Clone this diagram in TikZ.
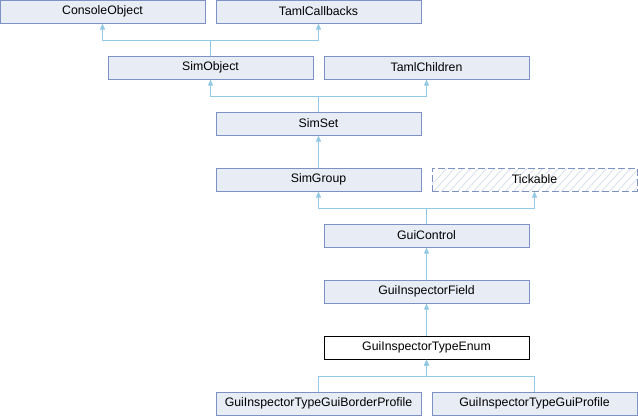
\documentclass[tikz,border=0pt]{standalone}
\usepackage{fontspec}
\setmainfont{Liberation Sans}
\usetikzlibrary{arrows.meta}
\definecolor{boxfill}{RGB}{232,236,245}
\definecolor{boxline}{RGB}{124,146,196}
\definecolor{edgecol}{RGB}{148,200,230}
\definecolor{hatchcol}{RGB}{215,222,236}
\begin{document}
\begin{tikzpicture}[x=1pt,y=-1pt,
  cls/.style={draw=boxline,fill=boxfill,line width=1pt,minimum width=205pt,minimum height=23pt,inner sep=0pt,font=\fontsize{12.3}{14}\selectfont},
  cur/.style={cls,draw=black,fill=white},
  ext/.style={cls,fill=none,dash pattern=on 7pt off 3pt},
  edge/.style={draw=edgecol,line width=1pt,-{Triangle[length=6pt,width=5pt]}}]
\useasboundingbox (0,0) rectangle (638,416);
\node[cls] (consoleobject) at (102.5,11.5) {ConsoleObject};
\node[cls] (tamlcallbacks) at (318.5,11.5) {TamlCallbacks};
\node[cls] (simobject) at (210.5,67.5) {SimObject};
\node[cls] (tamlchildren) at (426.5,67.5) {TamlChildren};
\node[cls] (simset) at (318.5,123.5) {SimSet};
\node[cls] (simgroup) at (318.5,179.5) {SimGroup};
\begin{scope}
\clip (432,168) rectangle (637,191);
\foreach \i in {0,...,30} {
  \draw[hatchcol,line width=0.8pt] (424+8*\i,193) -- (449+8*\i,166);
}
\end{scope}
\node[ext] (tickable) at (534.5,179.5) {Tickable};
\node[cls] (guicontrol) at (426.5,235.5) {GuiControl};
\node[cls] (guiinspectorfield) at (426.5,291.5) {GuiInspectorField};
\node[cur] (enum) at (426.5,347.5) {GuiInspectorTypeEnum};
\node[cls] (borderprofile) at (318.5,403.5) {GuiInspectorTypeGuiBorderProfile};
\node[cls] (guiprofile) at (534.5,403.5) {GuiInspectorTypeGuiProfile};
\coordinate (b1) at (210.5,40.5);
\coordinate (b2) at (318.5,96.5);
\coordinate (b3) at (426.5,208.5);
\coordinate (b4) at (426.5,376.5);
\draw[edge] (simobject.north) -- (b1) -| (consoleobject.south);
\draw[edge] (simobject.north) -- (b1) -| (tamlcallbacks.south);
\draw[edge] (simset.north) -- (b2) -| (simobject.south);
\draw[edge] (simset.north) -- (b2) -| (tamlchildren.south);
\draw[edge] (simgroup.north) -- (simset.south);
\draw[edge] (guicontrol.north) -- (b3) -| (simgroup.south);
\draw[edge] (guicontrol.north) -- (b3) -| (tickable.south);
\draw[edge] (guiinspectorfield.north) -- (guicontrol.south);
\draw[edge] (enum.north) -- (guiinspectorfield.south);
\draw[edge] (borderprofile.north) |- (b4) -- (enum.south);
\draw[edge] (guiprofile.north) |- (b4) -- (enum.south);
\end{tikzpicture}
\end{document}
